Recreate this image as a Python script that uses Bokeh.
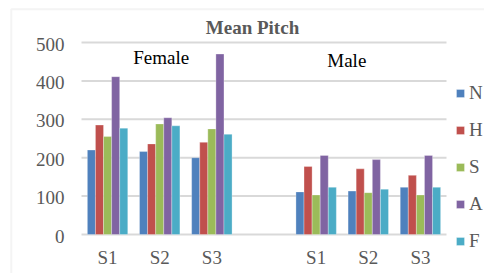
from bokeh.plotting import figure
from bokeh.models import ColumnDataSource, Legend, LegendItem, BoxAnnotation
from bokeh.core.properties import value
from bokeh.embed import file_html
from bokeh.resources import INLINE

# ---- data ----
sessions = ["S1", "S2", "S3"]
groups = ["Female", "Male"]
series = ["N", "H", "S", "A", "F"]
female_N = [220, 216, 200]
female_H = [285, 236, 240]
female_S = [255, 288, 275]
female_A = [411, 304, 470]
female_F = [277, 283, 261]
male_N = [111, 113, 123]
male_H = [177, 171, 154]
male_S = [103, 109, 103]
male_A = [206, 195, 206]
male_F = [123, 118, 123]
y_ticks = [0, 100, 200, 300, 400, 500]
colors = ["#4F81BD", "#C0504D", "#9BBB59", "#8064A2", "#4BACC6"]

values = {
    "N": female_N + male_N,
    "H": female_H + male_H,
    "S": female_S + male_S,
    "A": female_A + male_A,
    "F": female_F + male_F,
}
# slot centers: female S1..S3 in slots 0..2, empty slot 3, male S1..S3 in slots 4..6
slots = [0, 1, 2, 4, 5, 6]
centers = [s + 0.5 for s in slots]
tick_labels = sessions + sessions

SERIF = "Liberation Serif"
GREY = "#595959"

# layout geometry (pixels) of the plotting area inside the canvas
W, H = 484, 273
PL, PR, PT, PB = 81, 446, 42, 234
NSLOT, YMAX = 7, 500
sx = (PR - PL) / NSLOT          # px per x unit
sy = (PB - PT) / YMAX           # px per y unit
def dx(px):
    return (px - PL) / sx
def dy(py):
    return (PB - py) / sy

p = figure(width=W, height=H, x_range=(dx(0), dx(W)), y_range=(dy(H), dy(0)),
           output_backend="svg", toolbar_location=None,
           title_location=None, x_axis_location=None, y_axis_location=None,
           min_border=0, min_border_left=0, min_border_right=0,
           min_border_top=0, min_border_bottom=0)
p.grid.visible = False
p.outline_line_color = None
p.background_fill_color = "white"
p.border_fill_color = "white"

# chart border (light grey)
p.add_layout(BoxAnnotation(left=dx(10.8), top=dy(8.8), right=dx(W + 20), bottom=dy(H + 20),
                           fill_alpha=0, line_color="#D9D9D9", line_width=2))

# gridlines
p.segment(x0=[0] * len(y_ticks), x1=[NSLOT] * len(y_ticks), y0=y_ticks, y1=y_ticks,
          line_color="#D9D9D9", line_width=2)

# bars
bw = 0.155
renderers = []
for i, (name, col) in enumerate(zip(series, colors)):
    off = (i - 2) * bw
    src = ColumnDataSource(dict(x=[c + off for c in centers], top=values[name]))
    r = p.vbar(x="x", top="top", width=bw, bottom=0, source=src,
               fill_color=col, line_color="white", line_alpha=0.5, line_width=0.6)
    renderers.append((name, r))

# y tick labels
p.text(x=[dx(64)] * len(y_ticks), y=[t - 1.5 / sy for t in y_ticks],
       text=[str(t) for t in y_ticks], text_align="right", text_baseline="middle",
       text_font=value(SERIF), text_font_size="19px", text_color=GREY)
# x tick labels
p.text(x=centers, y=[dy(257)] * len(centers), text=tick_labels,
       text_align="center", text_baseline="middle",
       text_font=value(SERIF), text_font_size="19px", text_color=GREY)

# title
p.text(x=[dx(252)], y=[dy(26.7)], text=["Mean Pitch"], text_align="center",
       text_baseline="middle", text_font=value(SERIF), text_font_style="bold",
       text_font_size="19px", text_color=GREY)
# group labels
p.text(x=[dx(160.7), dx(346.3)], y=[dy(57), dy(59.5)], text=groups,
       text_align="center", text_baseline="middle", text_font=value(SERIF),
       text_font_size="19px", text_color="black")

legend = Legend(items=[LegendItem(label=n, renderers=[r]) for n, r in renderers],
                location=(455, 21.5), orientation="vertical",
                glyph_width=10, glyph_height=10, label_height=22, spacing=15,
                label_standoff=4, padding=0, margin=0,
                border_line_color=None, background_fill_alpha=0,
                label_text_font=SERIF, label_text_font_size="19px",
                label_text_color=GREY)
p.add_layout(legend, "center")

open("out.html", "w").write(file_html(p, INLINE))
